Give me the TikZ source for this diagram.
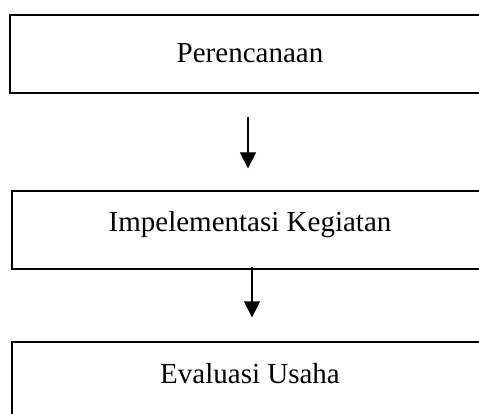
\documentclass[tikz,border=0pt]{standalone}
\usepackage{fontspec}
\setmainfont{Liberation Serif}
\usepackage{tikz}
\usetikzlibrary{arrows.meta}

\begin{document}
\begin{tikzpicture}[every node/.style={font=\fontsize{11.6pt}{14pt}\selectfont},
    box/.style={draw,line width=0.5pt,inner sep=0pt,anchor=base},
    arr/.style={line width=0.5pt,-{Triangle[length=6.4pt,width=6.4pt]}}]
      %%%%%%%%%%%%%%%%%%%%%%%%%%%%%%%%%%%%%%%%%%%%%%%%%%%%%%%%%%%%%%%%%%%%%%%%%%
      %%% BEGIN: FRAME.
      %%%%%%%%%%%%%%%%%%%%%%%%%%%%%%%%%%%%%%%%%%%%%%%%%%%%%%%%%%%%%%%%%%%%%%%%%%
      \useasboundingbox (0,0) rectangle (191.6pt,-165.2pt);
      \clip (0,0) rectangle (191.6pt,-165.2pt);
      %%%%%%%%%%%%%%%%%%%%%%%%%%%%%%%%%%%%%%%%%%%%%%%%%%%%%%%%%%%%%%%%%%%%%%%%%%
      %%% END: FRAME.
      %%%%%%%%%%%%%%%%%%%%%%%%%%%%%%%%%%%%%%%%%%%%%%%%%%%%%%%%%%%%%%%%%%%%%%%%%%

      %%%%%%%%%%%%%%%%%%%%%%%%%%%%%%%%%%%%%%%%%%%%%%%%%%%%%%%%%%%%%%%%%%%%%%%%%%
      %%% BEGIN: STAGES.
      %%%%%%%%%%%%%%%%%%%%%%%%%%%%%%%%%%%%%%%%%%%%%%%%%%%%%%%%%%%%%%%%%%%%%%%%%%
      % Planning.
      \node[box,minimum width=192pt,text height=19.2pt,text depth=12pt]
        (plan) at (100pt,-25.2pt) {Perencanaan};
      % Implementation.
      \node[box,minimum width=190.4pt,text height=16pt,text depth=15.2pt]
        (impl) at (100pt,-92.4pt) {Impelementasi Kegiatan};
      % Evaluation.
      \node[box,minimum width=190.4pt,text height=16.4pt,text depth=16pt]
        (eval) at (100pt,-153.2pt) {Evaluasi Usaha};
      %%%%%%%%%%%%%%%%%%%%%%%%%%%%%%%%%%%%%%%%%%%%%%%%%%%%%%%%%%%%%%%%%%%%%%%%%%
      %%% END: STAGES.
      %%%%%%%%%%%%%%%%%%%%%%%%%%%%%%%%%%%%%%%%%%%%%%%%%%%%%%%%%%%%%%%%%%%%%%%%%%

      % Arrows.
      \draw[arr,shorten <=9.2pt,shorten >=8.8pt]
        ([xshift=-0.8pt]plan.south) -- ([xshift=-0.8pt]impl.north);
      \draw[arr,shorten <=-1.2pt,shorten >=9.6pt]
        ([xshift=0.8pt]impl.south) -- ([xshift=0.8pt]eval.north);
    \end{tikzpicture}
\end{document}
